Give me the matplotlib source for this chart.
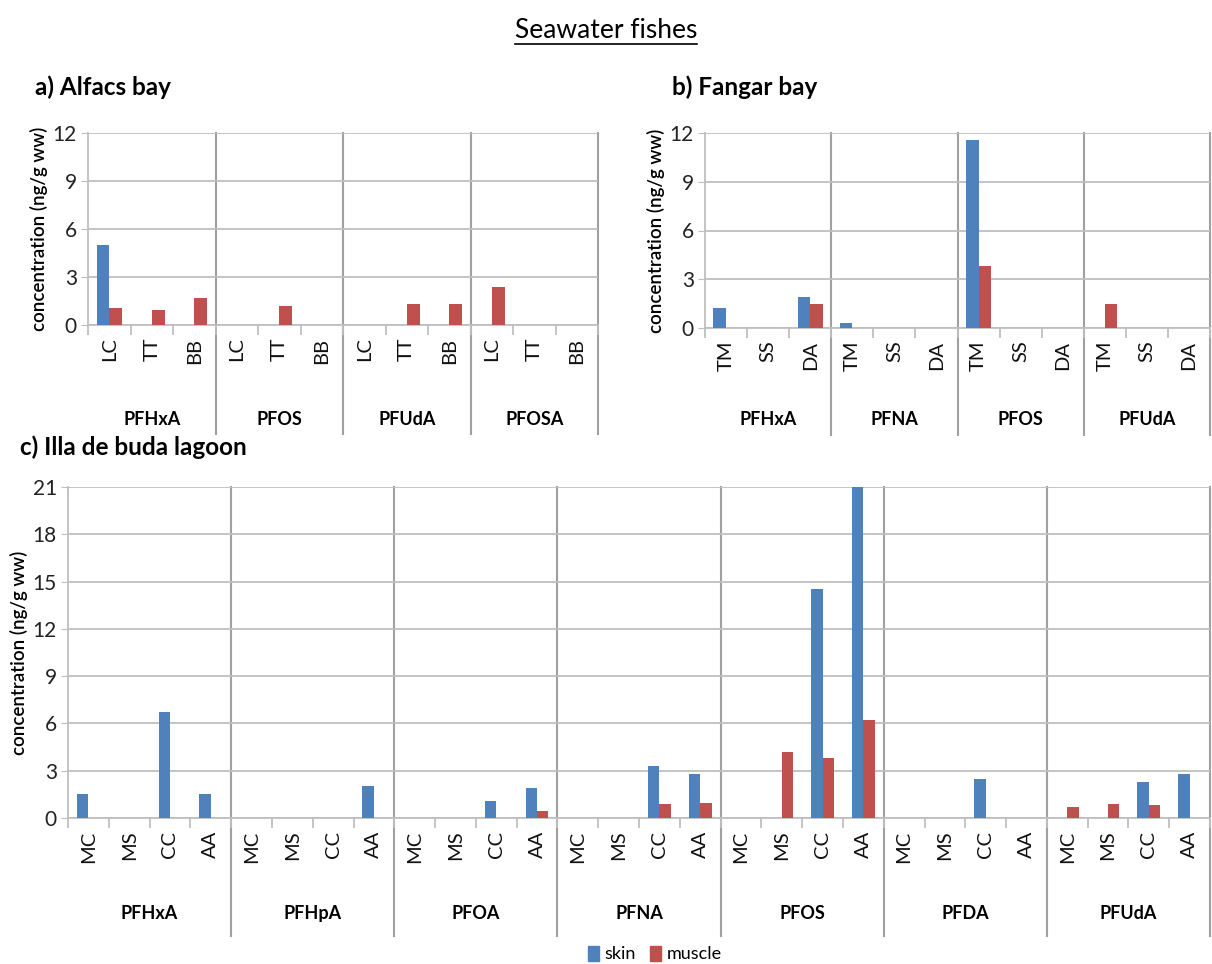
import matplotlib
matplotlib.use('Agg')
import matplotlib.pyplot as plt
import matplotlib.patches as mpatches
import matplotlib.transforms as mtransforms
from matplotlib.lines import Line2D
import numpy as np

plt.rcParams['font.family'] = ['Lato', 'DejaVu Sans']

# a) Alfacs bay
a_groups = ['PFHxA', 'PFOS', 'PFUdA', 'PFOSA']
a_species = ['LC', 'TT', 'BB']
a_skin = [5.0, 0, 0, 0, 0, 0, 0, 0, 0, 0, 0, 0]
a_muscle = [1.05, 0.95, 1.7, 0, 1.2, 0, 0, 1.3, 1.3, 2.35, 0, 0]

# b) Fangar bay
b_groups = ['PFHxA', 'PFNA', 'PFOS', 'PFUdA']
b_species = ['TM', 'SS', 'DA']
b_skin = [1.25, 0, 1.9, 0.3, 0, 0, 11.6, 0, 0, 0, 0, 0]
b_muscle = [0, 0, 1.5, 0, 0, 0, 3.8, 0, 0, 1.5, 0, 0]

# c) Illa de buda lagoon
c_groups = ['PFHxA', 'PFHpA', 'PFOA', 'PFNA', 'PFOS', 'PFDA', 'PFUdA']
c_species = ['MC', 'MS', 'CC', 'AA']
c_skin = [1.5, 0, 6.7, 1.5, 0, 0, 0, 2.0, 0, 0, 1.1, 1.9, 0, 0, 3.3, 2.8,
          0, 0, 14.5, 21.0, 0, 0, 2.45, 0, 0, 0, 2.3, 2.8]
c_muscle = [0, 0, 0, 0, 0, 0, 0, 0, 0, 0, 0, 0.45, 0, 0, 0.9, 0.95,
            0, 4.2, 3.8, 6.2, 0, 0, 0, 0, 0.7, 0.9, 0.8, 0]

SKIN = '#4F81BD'
MUSCLE = '#C0504D'
GRID = '#BFBFBF'
SEP = '#A0A0A0'

W, H = 1212., 964.
fig = plt.figure(figsize=(12.12, 9.64), dpi=100)


def px_axes(x0, y0, x1, y1):
    return fig.add_axes([x0 / W, 1 - y1 / H, (x1 - x0) / W, (y1 - y0) / H])


def panel(ax, groups, species, skin, muscle, ymax, step, sep_bottom, grp_y, bw):
    ns = len(species)
    n = len(groups) * ns
    x = np.arange(n) + 0.5
    ax.bar(x - bw / 2, skin, bw, color=SKIN, zorder=3)
    ax.bar(x + bw / 2, muscle, bw, color=MUSCLE, zorder=3)
    ax.set_xlim(0, n)
    ax.set_ylim(0, ymax)
    ax.set_yticks(np.arange(0, ymax + 1, step))
    ax.yaxis.grid(True, color=GRID, lw=1.3, zorder=0)
    for s in ['top', 'right']:
        ax.spines[s].set_visible(False)
    for s in ['left', 'bottom']:
        ax.spines[s].set_color(GRID)
        ax.spines[s].set_linewidth(1.3)
    ax.tick_params(axis='y', labelsize=15, length=5, color=GRID, pad=3,
                   labelcolor='#222222')
    ax.set_xticks(x)
    ax.set_xticklabels(species * len(groups), rotation=90, fontsize=14.5,
                       color='#111111')
    ax.tick_params(axis='x', length=0, pad=9)
    ax.set_xticks(np.arange(n + 1), minor=True)
    ax.tick_params(axis='x', which='minor', length=7, color=GRID, width=1.3)
    trans = mtransforms.blended_transform_factory(ax.transData, ax.transAxes)
    for g in range(1, len(groups) + 1):
        ax.plot([g * ns, g * ns], [sep_bottom, 1.0], color=SEP, lw=1.5,
                transform=trans, clip_on=False, zorder=1)
    for g, name in enumerate(groups):
        ax.text(g * ns + ns / 2, grp_y, name, transform=trans, ha='center',
                va='center', fontsize=13, fontweight='bold')
    ax.set_ylabel('concentration (ng/g ww)', fontsize=13.5, fontweight='semibold',
                  labelpad=3)


axa = px_axes(88, 133, 598, 325)
panel(axa, a_groups, a_species, a_skin, a_muscle, 12, 3, -0.57, -0.49, 0.3)

axb = px_axes(705, 133, 1210, 328)
panel(axb, b_groups, b_species, b_skin, b_muscle, 12, 3, -0.55, -0.47, 0.3)

axc = px_axes(68, 487, 1210, 818)
panel(axc, c_groups, c_species, c_skin, c_muscle, 21, 3, -0.355, -0.29, 0.28)

fig.text(35 / W, 1 - 87 / H, 'a) Alfacs bay', fontsize=17.5, fontweight='bold',
         va='center')
fig.text(672 / W, 1 - 87 / H, 'b) Fangar bay', fontsize=17.5, fontweight='bold',
         va='center')
fig.text(20 / W, 1 - 447 / H, 'c) Illa de buda lagoon', fontsize=17.5,
         fontweight='bold', va='center')

title = fig.text(606 / W, 1 - 30 / H, 'Seawater fishes', fontsize=19,
                 ha='center', va='center')
fig.canvas.draw()
bb = title.get_window_extent().transformed(fig.transFigure.inverted())
fig.add_artist(Line2D([bb.x0, bb.x1], [bb.y0 - 0.002, bb.y0 - 0.002],
                      color='black', lw=1.2, transform=fig.transFigure))

sp = mpatches.Patch(color=SKIN, label='skin')
mp = mpatches.Patch(color=MUSCLE, label='muscle')
fig.legend(handles=[sp, mp], loc='center', bbox_to_anchor=(655 / W, 1 - 954 / H),
           ncol=2, frameon=False, fontsize=13, handlelength=0.6,
           handleheight=0.9, handletextpad=0.3, columnspacing=0.8)

fig.savefig('out.png', dpi=100)
